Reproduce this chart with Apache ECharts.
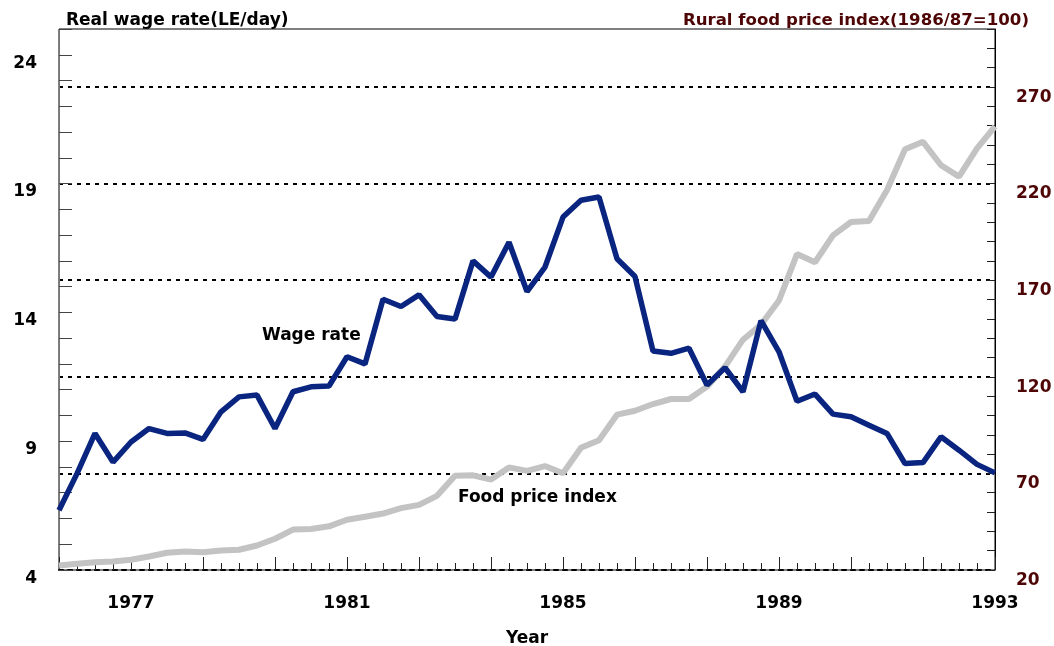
<!DOCTYPE html>
<html>
<head>
<meta charset="utf-8">
<script src="https://cdn.jsdelivr.net/npm/echarts@6/dist/echarts.min.js"></script>
<style>
  html, body { margin: 0; padding: 0; background: #fff; }
  #chart { width: 1054px; height: 646px; }
</style>
</head>
<body>
<div id="chart"></div>
<script>
// periods: year.third (three observations per year)
var periods = [
  '1975.3',
  '1976.1', '1976.2', '1976.3', '1977.1', '1977.2', '1977.3',
  '1978.1', '1978.2', '1978.3', '1979.1', '1979.2', '1979.3',
  '1980.1', '1980.2', '1980.3', '1981.1', '1981.2', '1981.3',
  '1982.1', '1982.2', '1982.3', '1983.1', '1983.2', '1983.3',
  '1984.1', '1984.2', '1984.3', '1985.1', '1985.2', '1985.3',
  '1986.1', '1986.2', '1986.3', '1987.1', '1987.2', '1987.3',
  '1988.1', '1988.2', '1988.3', '1989.1', '1989.2', '1989.3',
  '1990.1', '1990.2', '1990.3', '1991.1', '1991.2', '1991.3',
  '1992.1', '1992.2', '1992.3', '1993.1'
];
var yearLabels = ['1977', '1981', '1985', '1989', '1993'];

var wageRate = [
  6.32, 7.74, 9.30, 8.19, 8.97, 9.49, 9.30, 9.32, 9.07, 10.14,
  10.72, 10.79, 9.49, 10.92, 11.11, 11.14, 12.28, 12.00, 14.51, 14.23,
  14.68, 13.84, 13.74, 16.00, 15.37, 16.72, 14.81, 15.76, 17.70, 18.35,
  18.48, 16.08, 15.39, 12.50, 12.41, 12.61, 11.18, 11.85, 10.92, 13.68,
  12.47, 10.55, 10.83, 10.05, 9.95, 9.62, 9.30, 8.13, 8.17, 9.17,
  8.65, 8.10, 7.77
];
var foodPrice = [
  22.3, 23.2, 24.0, 24.4, 25.3, 27.0, 28.9, 29.6, 29.2, 30.1,
  30.5, 32.7, 36.2, 40.9, 41.2, 42.6, 46.0, 47.6, 49.2, 52.0,
  53.7, 58.4, 68.8, 69.0, 66.8, 73.1, 71.3, 73.8, 70.1, 83.3,
  87.2, 100.4, 102.4, 105.9, 108.5, 108.5, 114.9, 125.3, 139.2, 147.0,
  159.5, 183.5, 179.3, 193.2, 200.1, 200.6, 216.7, 237.8, 241.6, 229.5,
  223.6, 238.2, 249.6
];

var leftTicks = [4, 9, 14, 19, 24];
var rightTicks = [20, 70, 120, 170, 220, 270];

var font = '"DejaVu Sans", Verdana, sans-serif';
var maroon = '#4d0505';

var isYearLabel = function (idx, val) {
  var p = val.split('.');
  return p[1] === '1' && yearLabels.indexOf(p[0]) >= 0;
};

var chart = echarts.init(document.getElementById('chart'));
var option = {
  animation: false,
  backgroundColor: '#fff',
  textStyle: { fontFamily: font },
  title: [
    {
      text: 'Real wage rate(LE/day)',
      left: 61, top: 7,
      textStyle: { fontSize: 17, fontWeight: 'bold', color: '#000', fontFamily: font }
    },
    {
      text: 'Rural food price index(1986/87=100)',
      right: 20, top: 7,
      textStyle: { fontSize: 16.6, fontWeight: 'bold', color: maroon, fontFamily: font }
    }
  ],
  grid: {
    left: 59, right: 59, top: 29, bottom: 76,
    containLabel: false,
    outerBoundsMode: 'none',
    show: true, borderColor: '#000', borderWidth: 1
  },
  graphic: [
    {
      type: 'text', left: 262, top: 327,
      style: { text: 'Wage rate', font: 'bold 17px ' + font, fill: '#000' }
    },
    {
      type: 'text', left: 458, top: 489,
      style: { text: 'Food price index', font: 'bold 17px ' + font, fill: '#000' }
    }
  ],
  xAxis: [
    {
      type: 'category',
      data: periods,
      boundaryGap: false,
      name: 'Year',
      nameLocation: 'middle',
      nameGap: 60,
      nameTextStyle: { fontSize: 17, fontWeight: 'bold', color: '#000' },
      axisLine: { lineStyle: { color: '#000', width: 2, type: [4, 5] } },
      axisTick: { inside: true, length: 7, interval: 0, lineStyle: { color: '#222' } },
      axisLabel: {
        interval: isYearLabel,
        formatter: function (val) { return val.split('.')[0]; },
        margin: 25,
        fontSize: 17, fontWeight: 'bold', color: '#000'
      }
    },
    {
      type: 'category',
      data: periods,
      boundaryGap: false,
      position: 'bottom',
      axisLine: { show: false },
      axisTick: { inside: true, length: 13, interval: 3, lineStyle: { color: '#222' } },
      axisLabel: { show: false }
    }
  ],
  yAxis: [
    {
      type: 'value',
      min: 4, max: 25, interval: 1,
      axisLine: { show: true, lineStyle: { color: '#777' } },
      axisTick: { show: true, inside: true, length: 13, lineStyle: { color: '#444' } },
      splitLine: { show: false },
      axisLabel: {
        formatter: function (v) { return leftTicks.indexOf(v) >= 0 ? v : ''; },
        verticalAlign: 'top',
        margin: 22,
        fontSize: 17, fontWeight: 'bold', color: '#000'
      }
    },
    {
      type: 'value',
      min: 20, max: 300, interval: 10,
      position: 'right',
      axisLine: { show: true, lineStyle: { color: '#000' } },
      axisTick: { show: true, inside: true, length: 8, lineStyle: { color: '#222' } },
      splitLine: {
        show: true,
        lineStyle: {
          type: [4, 5], width: 2,
          color: ['#000', 'rgba(0,0,0,0)', 'rgba(0,0,0,0)', 'rgba(0,0,0,0)', 'rgba(0,0,0,0)']
        }
      },
      axisLabel: {
        formatter: function (v) { return rightTicks.indexOf(v) >= 0 ? v : ''; },
        verticalAlign: 'top',
        padding: [2, 0, 0, 0],
        margin: 21,
        fontSize: 17, fontWeight: 'bold', color: maroon
      }
    }
  ],
  series: [
    {
      name: 'Food price index',
      type: 'line',
      yAxisIndex: 1,
      data: foodPrice,
      symbol: 'none',
      lineStyle: { color: '#c3c3c3', width: 6 },
      z: 3
    },
    {
      name: 'Wage rate',
      type: 'line',
      yAxisIndex: 0,
      data: wageRate,
      symbol: 'none',
      lineStyle: { color: '#0a2580', width: 5.5 },
      z: 4
    }
  ]
};
chart.setOption(option);
</script>
</body>
</html>
